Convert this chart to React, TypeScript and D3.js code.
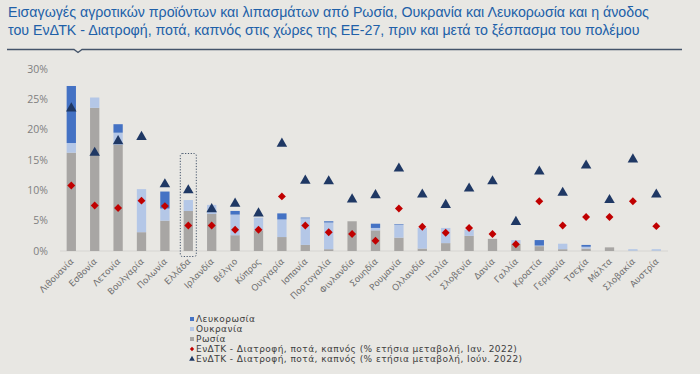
import { useMemo } from "react";
import * as d3 from "d3";

const W = 700;
const H = 374;

const COUNTRIES = [
  "Λιθουανία", "Εσθονία", "Λετονία", "Βουλγαρία", "Πολωνία", "Ελλάδα",
  "Ιρλανδία", "Βέλγιο", "Κύπρος", "Ουγγαρία", "Ισπανία", "Πορτογαλία",
  "Φινλανδία", "Σουηδία", "Ρουμανία", "Ολλανδία", "Ιταλία", "Σλοβενία",
  "Δανία", "Γαλλία", "Κροατία", "Γερμανία", "Τσεχία", "Μάλτα",
  "Σλοβακία", "Αυστρία",
];

// share of imports (%)
const RUSSIA = [
  16.2, 23.6, 17.5, 3.1, 5.0, 6.6, 6.1, 2.6, 3.4, 2.3, 1.0, 0.3, 4.9, 3.4,
  2.2, 0.4, 1.3, 2.5, 2.0, 1.2, 0.8, 0.3, 0.4, 0.6, 0.05, 0.05,
];
const UKRAINE = [
  1.6, 1.7, 2.0, 7.1, 2.0, 1.8, 1.5, 3.4, 2.1, 2.9, 4.4, 4.4, 0.0, 0.4,
  2.1, 3.4, 2.5, 1.0, 0.0, 0.6, 0.1, 0.9, 0.3, 0.0, 0.25, 0.25,
];
const BELARUS = [
  9.4, 0.0, 1.4, 0.0, 2.8, 0.0, 0.0, 0.6, 0.0, 1.0, 0.1, 0.2, 0.0, 0.7,
  0.1, 0.0, 0.0, 0.0, 0.0, 0.0, 0.9, 0.0, 0.3, 0.0, 0.0, 0.0,
];
// HICP food, beverages, tobacco (% yoy)
const HICP_JAN = [
  10.8, 7.5, 7.1, 8.3, 7.4, 4.2, 4.2, 3.5, 3.5, 9.0, 4.2, 3.1, 2.8, 1.7,
  7.0, 4.0, 3.0, 3.8, 2.8, 1.1, 8.2, 4.2, 5.6, 5.6, 8.2, 4.1,
];
const HICP_JUN = [
  23.5, 16.2, 18.1, 18.8, 11.0, 10.0, 6.9, 7.8, 6.2, 17.7, 11.6, 11.5, 8.5,
  9.2, 13.6, 9.3, 7.6, 10.3, 11.5, 4.8, 13.1, 9.6, 14.1, 8.4, 15.1, 9.3,
];
const Y_TICKS = [0, 5, 10, 15, 20, 25, 30];

const LEGEND = [
  "Λευκορωσία",
  "Ουκρανία",
  "Ρωσία",
  "ΕνΔΤΚ - Διατροφή, ποτά, καπνός (% ετήσια μεταβολή, Ιαν. 2022)",
  "ΕνΔΤΚ - Διατροφή, ποτά, καπνός (% ετήσια μεταβολή, Ιούν. 2022)",
];

const C_RUS = "#a8a6a4";
const C_UKR = "#b4c7e7";
const C_BLR = "#4472c4";
const C_JAN = "#c00000";
const C_JUN = "#1f3864";
const BG = "#e8e7e3";
const FONT = "'DejaVu Sans', 'Open Sans', sans-serif";

const BAR_W = 9.3;

export default function App() {
  const rows = COUNTRIES.map((c, i) => ({
    country: c,
    russia: RUSSIA[i],
    ukraine: UKRAINE[i],
    belarus: BELARUS[i],
  }));

  const x = useMemo(
    () => d3.scalePoint<string>().domain(COUNTRIES).range([71.3, 656.3]),
    []
  );
  const y = useMemo(() => d3.scaleLinear().domain([0, 30]).range([251, 69]), []);

  const stacked = d3
    .stack<any>()
    .keys(["russia", "ukraine", "belarus"])(rows);
  const colors: Record<string, string> = {
    russia: C_RUS,
    ukraine: C_UKR,
    belarus: C_BLR,
  };

  const diamond = d3.symbol().type(d3.symbolDiamond2).size(40)() as string;
  const triangle = d3.symbol().type(d3.symbolTriangle).size(48)() as string;
  const smallDiamond = d3.symbol().type(d3.symbolDiamond2).size(12)() as string;
  const smallTriangle = d3.symbol().type(d3.symbolTriangle).size(14)() as string;

  const greeceX = x("Ελλάδα") as number;

  return (
    <svg
      width={W}
      height={H}
      style={{ position: "absolute", left: 0, top: 0 }}
      fontFamily={FONT}
    >
      <rect width={W} height={H} fill={BG} />

      {/* title */}
      <g
        fill="#2060a8"
        fontFamily="'Liberation Sans Narrow', 'Arial Narrow', 'Liberation Sans', sans-serif"
        fontSize={14.2}
      >
        <text x={8} y={17}>
          Εισαγωγές αγροτικών προϊόντων και λιπασμάτων από Ρωσία, Ουκρανία και Λευκορωσία και η άνοδος
        </text>
        <text x={8} y={35}>
          του ΕνΔΤΚ - Διατροφή, ποτά, καπνός στις χώρες της ΕΕ-27, πριν και μετά το ξέσπασμα του πολέμου
        </text>
      </g>
      <path
        d="M7,49.5 L74,49.5 L78,52.5 L82,49.5 L682,49.5"
        fill="none"
        stroke="#44546a"
        strokeWidth={1.3}
      />

      {/* y axis labels */}
      <g fill="#7f7f7f" fontSize={10.5} fontFamily="'Open Sans', sans-serif" textAnchor="end">
        {Y_TICKS.map((t) => (
          <text key={t} x={48} y={y(t)} dy="0.35em">
            {t}%
          </text>
        ))}
      </g>
      <line x1={60} x2={668} y1={y(0)} y2={y(0)} stroke="#d6d5d2" strokeWidth={1} />

      {/* bars */}
      {stacked.map((s) => (
        <g key={s.key} fill={colors[s.key]}>
          {s.map((d, i) => (
            <rect
              key={i}
              x={(x(COUNTRIES[i]) as number) - BAR_W / 2}
              y={y(d[1])}
              width={BAR_W}
              height={Math.max(0, y(d[0]) - y(d[1]))}
            />
          ))}
        </g>
      ))}

      {/* Greece highlight */}
      <rect
        x={greeceX - 8}
        y={153.5}
        width={16}
        height={103}
        rx={2}
        fill="none"
        stroke="#44546a"
        strokeWidth={1}
        strokeDasharray="1.2,1.6"
      />

      {/* markers */}
      {HICP_JAN.map((v, i) => (
        <path
          key={"j" + i}
          d={diamond}
          transform={`translate(${x(COUNTRIES[i])},${y(v)})`}
          fill={C_JAN}
        />
      ))}
      {HICP_JUN.map((v, i) => (
        <path
          key={"u" + i}
          d={triangle}
          transform={`translate(${x(COUNTRIES[i])},${y(v)})`}
          fill={C_JUN}
        />
      ))}

      {/* x labels */}
      <g fill="#707070" fontSize={8.8} textAnchor="end">
        {COUNTRIES.map((c) => (
          <text
            key={c}
            transform={`translate(${(x(c) as number) + 3},${262}) rotate(-45)`}
          >
            {c}
          </text>
        ))}
      </g>

      {/* legend */}
      <g fontSize={9} fill="#404040" letterSpacing={0.45}>
        {LEGEND.map((l, i) => {
          const ly = 319 + i * 10;
          let marker;
          if (i < 3) {
            const col = [C_BLR, C_UKR, C_RUS][i];
            marker = <rect x={190} y={ly - 2} width={4} height={4} fill={col} />;
          } else if (i === 3) {
            marker = (
              <path d={smallDiamond} transform={`translate(192,${ly})`} fill={C_JAN} />
            );
          } else {
            marker = (
              <path d={smallTriangle} transform={`translate(192,${ly})`} fill={C_JUN} />
            );
          }
          return (
            <g key={i}>
              {marker}
              <text x={196} y={ly} dy="0.35em">
                {l}
              </text>
            </g>
          );
        })}
      </g>
    </svg>
  );
}
